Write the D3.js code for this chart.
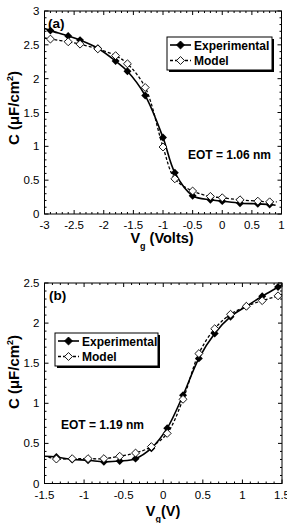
<!DOCTYPE html>
<html>
<head>
<meta charset="utf-8">
<script src="https://cdn.jsdelivr.net/npm/d3@7"></script>
<style>
  body { margin: 0; background: #fff; }
  svg { display: block; font-family: Arial, "Liberation Sans", sans-serif; }
</style>
</head>
<body>
<svg id="chart" width="287" height="523"></svg>
<script>
// panel (a)
const vgA = [-2.9, -2.6, -2.4, -2.1, -1.8, -1.6, -1.3, -1.0, -0.8, -0.5, -0.2, 0, 0.3, 0.6, 0.8];
const expA = [2.71, 2.63, 2.57, 2.45, 2.26, 2.11, 1.75, 1.13, 0.61, 0.27, 0.21, 0.19, 0.16, 0.15, 0.14];
const modA = [2.585, 2.545, 2.51, 2.44, 2.34, 2.22, 1.87, 0.99, 0.52, 0.34, 0.26, 0.24, 0.21, 0.19, 0.18];
// fitted curve end points drawn past the markers
const expAEnds = [[-3, 2.74], [0.9, 0.13]];
const modAEnds = [[-3, 2.6], [0.92, 0.18]];
const xTicksA = [-3, -2.5, -2, -1.5, -1, -0.5, 0, 0.5, 1];
const yTicksA = [0, 0.5, 1, 1.5, 2, 2.5, 3];

// panel (b)
const vgB = [-1.35, -1.15, -0.95, -0.75, -0.55, -0.35, -0.15, 0.05, 0.25, 0.45, 0.65, 0.85, 1.05, 1.25, 1.45];
const expB = [0.33, 0.30, 0.29, 0.27, 0.28, 0.31, 0.44, 0.69, 1.10, 1.56, 1.87, 2.08, 2.21, 2.335, 2.45];
const modB = [0.305, 0.31, 0.31, 0.31, 0.34, 0.38, 0.46, 0.625, 1.05, 1.62, 1.93, 2.11, 2.21, 2.28, 2.34];
const expBEnds = [[-1.5, 0.34], [1.5, 2.48]];
const modBEnds = [[-1.45, 0.33], [1.5, 2.36]];
const xTicksB = [-1.5, -1, -0.5, 0, 0.5, 1, 1.5];
const yTicksB = [0, 0.5, 1, 1.5, 2, 2.5];

const svg = d3.select("#chart");

function panel(o) {
  const x = d3.scaleLinear().domain(o.xDom).range([o.left, o.right]);
  const y = d3.scaleLinear().domain(o.yDom).range([o.bottom, o.top]);
  const g = svg.append("g");

  g.append("rect")
    .attr("x", o.left).attr("y", o.top)
    .attr("width", o.right - o.left).attr("height", o.bottom - o.top)
    .attr("fill", "none").attr("stroke", "#000").attr("stroke-width", 1);

  // minor + major ticks, inward on all sides
  const xMinor = d3.range(o.xDom[0], o.xDom[1] + 1e-9, 0.1);
  const yMinor = d3.range(o.yDom[0], o.yDom[1] + 1e-9, 0.1);
  const isMajor = v => Math.abs(v * 2 - Math.round(v * 2)) < 1e-6;
  xMinor.forEach(v => {
    const len = isMajor(v) ? 4 : 2;
    g.append("line").attr("x1", x(v)).attr("x2", x(v)).attr("y1", o.bottom).attr("y2", o.bottom - len).attr("stroke", "#000");
    g.append("line").attr("x1", x(v)).attr("x2", x(v)).attr("y1", o.top).attr("y2", o.top + len).attr("stroke", "#000");
  });
  yMinor.forEach(v => {
    const len = isMajor(v) ? 4 : 2;
    g.append("line").attr("y1", y(v)).attr("y2", y(v)).attr("x1", o.left).attr("x2", o.left + len).attr("stroke", "#000");
    g.append("line").attr("y1", y(v)).attr("y2", y(v)).attr("x1", o.right).attr("x2", o.right - len).attr("stroke", "#000");
  });

  g.selectAll(".xl").data(o.xTicks).enter().append("text")
    .attr("x", d => x(d)).attr("y", o.bottom + 15)
    .attr("text-anchor", "middle").attr("font-size", 11.5)
    .text(d => d);
  g.selectAll(".yl").data(o.yTicks).enter().append("text")
    .attr("x", o.left - 5).attr("y", d => y(d) + 4)
    .attr("text-anchor", "end").attr("font-size", 11.5)
    .text(d => d);

  const line = d3.line().x(d => x(d[0])).y(d => y(d[1])).curve(d3.curveCatmullRom.alpha(0.5));
  const pts = (xs, ys, ends) => [ends[0]].concat(xs.map((v, i) => [v, ys[i]]), [ends[1]]);

  g.append("path").datum(pts(o.vg, o.mod, o.modEnds)).attr("d", line)
    .attr("fill", "none").attr("stroke", "#000").attr("stroke-width", 1.3).attr("stroke-dasharray", "3,2");
  g.append("path").datum(pts(o.vg, o.exp, o.expEnds)).attr("d", line)
    .attr("fill", "none").attr("stroke", "#000").attr("stroke-width", 1.6);

  const diamond = d3.symbol().type(d3.symbolDiamond2).size(40);
  g.selectAll(".fm").data(o.vg).enter().append("path")
    .attr("transform", (d, i) => `translate(${x(d)},${y(o.exp[i])})`)
    .attr("d", diamond).attr("fill", "#000");
  g.selectAll(".om").data(o.vg).enter().append("path")
    .attr("transform", (d, i) => `translate(${x(d)},${y(o.mod[i])})`)
    .attr("d", diamond).attr("fill", "#fff").attr("stroke", "#000").attr("stroke-width", 0.9);

  // legend with drop shadow
  const L = o.legend;
  g.append("rect").attr("x", L.x + 2).attr("y", L.y + 2).attr("width", L.w).attr("height", L.h).attr("fill", "#000");
  g.append("rect").attr("x", L.x).attr("y", L.y).attr("width", L.w).attr("height", L.h)
    .attr("fill", "#fff").attr("stroke", "#000").attr("stroke-width", 1);
  [["Experimental", null, "#000", 1.6], ["Model", "3,2", "#fff", 1.3]].forEach((e, i) => {
    const cy = L.y + 8 + i * 15.5;
    g.append("line").attr("x1", L.x + 3).attr("x2", L.x + 24).attr("y1", cy).attr("y2", cy)
      .attr("stroke", "#000").attr("stroke-width", e[3]).attr("stroke-dasharray", e[1]);
    g.append("path").attr("transform", `translate(${L.x + 13.5},${cy})`).attr("d", diamond)
      .attr("fill", e[2]).attr("stroke", "#000").attr("stroke-width", 0.9);
    g.append("text").attr("x", L.x + 27).attr("y", cy + 4.5)
      .attr("font-size", 12).attr("font-weight", "bold").text(e[0]);
  });

  g.append("text").attr("x", o.tag[0]).attr("y", o.tag[1])
    .attr("font-size", 13.5).attr("font-weight", "bold").text(o.tagText);
  g.append("text").attr("x", o.eot[0]).attr("y", o.eot[1])
    .attr("font-size", 12).attr("font-weight", "bold").text(o.eotText);

  // y title
  const yt = g.append("text").attr("transform", `translate(${o.yTitle[0]},${o.yTitle[1]}) rotate(-90)`)
    .attr("text-anchor", "middle").attr("font-size", 15).attr("font-weight", "bold");
  yt.append("tspan").text("C (\u03bcF/cm");
  yt.append("tspan").attr("font-size", 9).attr("dy", -6).text("2");
  yt.append("tspan").attr("dy", 6).text(")");

  // x title
  const xt = g.append("text").attr("x", o.xTitle[0]).attr("y", o.xTitle[1])
    .attr("text-anchor", "middle").attr("font-size", 14.5).attr("font-weight", "bold");
  xt.append("tspan").text("V");
  xt.append("tspan").attr("font-size", 9).attr("dy", 6).text("g");
  xt.append("tspan").attr("dy", -6).text(o.xUnit);
}

panel({
  xDom: [-3, 1], yDom: [0, 3], left: 44.5, right: 281.5, top: 11, bottom: 214,
  xTicks: xTicksA, yTicks: yTicksA, vg: vgA, exp: expA, mod: modA,
  expEnds: expAEnds, modEnds: modAEnds,
  legend: { x: 167, y: 37, w: 105, h: 33 },
  tag: [48, 28], tagText: "(a)",
  eot: [188, 159], eotText: "EOT = 1.06 nm",
  yTitle: [19, 108], xTitle: [162, 243], xUnit: " (Volts)"
});

panel({
  xDom: [-1.5, 1.5], yDom: [0, 2.5], left: 44.5, right: 282, top: 283, bottom: 483.5,
  xTicks: xTicksB, yTicks: yTicksB, vg: vgB, exp: expB, mod: modB,
  expEnds: expBEnds, modEnds: modBEnds,
  legend: { x: 55, y: 333, w: 103, h: 33 },
  tag: [49, 300], tagText: "(b)",
  eot: [61, 429], eotText: "EOT = 1.19 nm",
  yTitle: [19, 372], xTitle: [163, 516], xUnit: "(V)"
});
</script>
</body>
</html>
